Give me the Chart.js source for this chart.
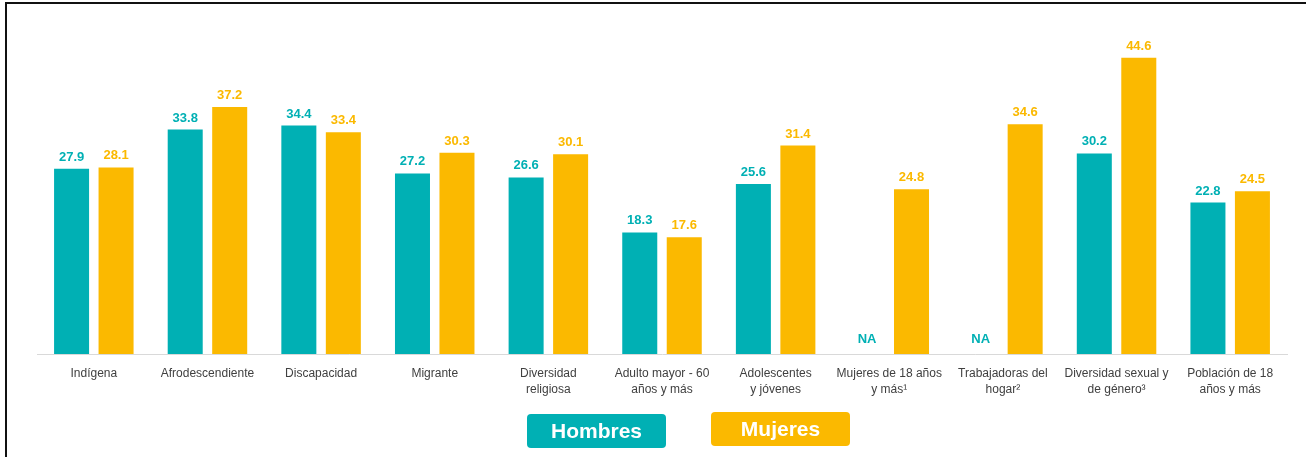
<!DOCTYPE html>
<html>
<head>
<meta charset="utf-8">
<script src="https://cdn.jsdelivr.net/npm/chart.js@4"></script>
<style>
  html, body { margin: 0; padding: 0; background: #fff; overflow: hidden; }
  #wrap { position: relative; width: 1306px; height: 457px; }
  #frame { position: absolute; left: 5px; top: 2px; width: 1400px; height: 600px;
           border-left: 2px solid #111; border-top: 2px solid #111; box-sizing: border-box; }
  canvas { position: absolute; left: 0; top: 0; }
</style>
</head>
<body>
<div id="wrap">
  <div id="frame"></div>
  <canvas id="barChart" width="1306" height="457"></canvas>
</div>
<script>
const categories = [
    'Indígena',
    'Afrodescendiente',
    'Discapacidad',
    'Migrante',
    ['Diversidad', 'religiosa'],
    ['Adulto mayor - 60', 'años y más'],
    ['Adolescentes', 'y jóvenes'],
    ['Mujeres de 18 años', 'y más¹'],
    ['Trabajadoras del', 'hogar²'],
    ['Diversidad sexual y', 'de género³'],
    ['Población de 18', 'años y más']
];
const hombres = [27.9, 33.8, 34.4, 27.2, 26.6, 18.3, 25.6, null, null, 30.2, 22.8];
const mujeres = [28.1, 37.2, 33.4, 30.3, 30.1, 17.6, 31.4, 24.8, 34.6, 44.6, 24.5];

const teal = '#00B0B4';
const gold = '#FBB900';

// value labels above bars, "NA" where there is no value
const valueLabels = {
    id: 'valueLabels',
    afterDatasetsDraw(chart) {
        const ctx = chart.ctx;
        ctx.save();
        ctx.font = 'bold 13px "Liberation Sans", Arial, sans-serif';
        ctx.textAlign = 'center';
        ctx.textBaseline = 'alphabetic';
        chart.data.datasets.forEach((ds, i) => {
            const meta = chart.getDatasetMeta(i);
            ctx.fillStyle = ds.backgroundColor;
            meta.data.forEach((bar, j) => {
                const v = ds.data[j];
                if (v === null) {
                    ctx.fillText('NA', bar.x, chart.chartArea.bottom - 11);
                } else {
                    ctx.fillText(v.toFixed(1), bar.x, bar.y - 8);
                }
            });
        });
        ctx.restore();
    }
};

// legend drawn as rounded boxes
const boxLegend = {
    id: 'boxLegend',
    afterDraw(chart) {
        const ctx = chart.ctx;
        const boxes = [
            { text: 'Hombres', color: teal, x: 527, y: 414 },
            { text: 'Mujeres', color: gold, x: 711, y: 412 }
        ];
        ctx.save();
        boxes.forEach(b => {
            ctx.fillStyle = b.color;
            ctx.beginPath();
            ctx.roundRect(b.x, b.y, 139, 34, 4);
            ctx.fill();
            ctx.fillStyle = '#fff';
            ctx.font = 'bold 21px "Liberation Sans", Arial, sans-serif';
            ctx.textAlign = 'center';
            ctx.textBaseline = 'middle';
            ctx.fillText(b.text, b.x + 69.5, b.y + 18);
        });
        ctx.restore();
    }
};

const ctx = document.getElementById('barChart').getContext('2d');
const barChart = new Chart(ctx, {
    type: 'bar',
    data: {
        labels: categories,
        datasets: [
            { label: 'Hombres', data: hombres, backgroundColor: teal },
            { label: 'Mujeres', data: mujeres, backgroundColor: gold }
        ]
    },
    options: {
        responsive: false,
        animation: false,
        events: [],
        categoryPercentage: 0.783,
        barPercentage: 0.787,
        layout: {
            padding: { left: 37, right: 19, top: 22, bottom: 0 }
        },
        plugins: {
            legend: { display: false },
            tooltip: { enabled: false }
        },
        scales: {
            x: {
                grid: { display: false },
                border: { display: true, color: '#d9d9d9', width: 1 },
                ticks: {
                    color: '#404040',
                    font: { family: '"Liberation Sans", Arial, sans-serif', size: 12, lineHeight: 1.33 },
                    padding: 4,
                    maxRotation: 0,
                    autoSkip: false
                },
                afterFit(scale) { scale.height = 103; }
            },
            y: {
                display: false,
                min: 0,
                max: 50
            }
        }
    },
    plugins: [valueLabels, boxLegend]
});
</script>
</body>
</html>
